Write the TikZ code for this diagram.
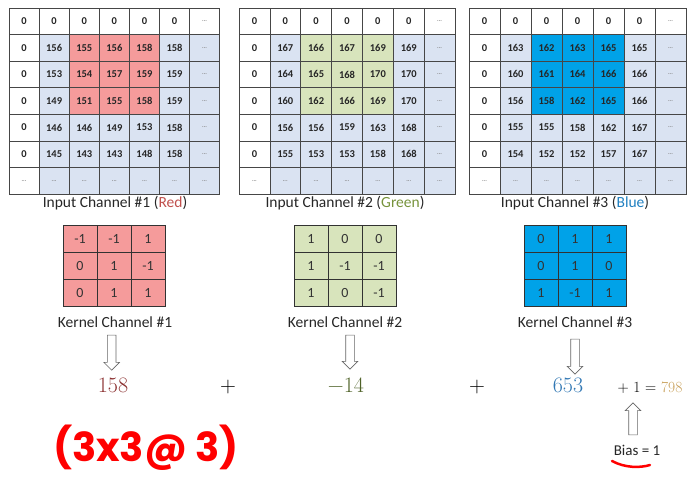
\documentclass[tikz,border=0pt]{standalone}
\usepackage{fontspec}
\usetikzlibrary{shapes.arrows}
\newfontfamily\calib{Carlito}
\newfontfamily\hand{Poppins}
\definecolor{cellbg}{RGB}{218,227,242}
\definecolor{hlred}{RGB}{245,155,155}
\definecolor{hlgreen}{RGB}{216,228,188}
\definecolor{hlblue}{RGB}{0,162,232}
\definecolor{gridline}{RGB}{70,70,70}
\definecolor{kline}{RGB}{50,50,50}
\definecolor{numred}{RGB}{140,50,50}
\definecolor{numgreen}{RGB}{79,98,40}
\definecolor{numblue}{RGB}{50,120,180}
\definecolor{numgold}{RGB}{200,160,90}
\definecolor{lblred}{RGB}{192,80,77}
\definecolor{lblgreen}{RGB}{119,147,60}
\definecolor{lblblue}{RGB}{31,127,192}
\newcommand\dd{\textcolor{gray}{\fontsize{6}{6}\selectfont...}}
\tikzset{
  cell/.style={draw=gridline, line width=0.7pt, inner sep=0pt,
    font=\calib\bfseries\fontsize{10.5}{11}\selectfont, text=black!85},
  kcell/.style={draw=kline, line width=0.8pt, inner sep=0pt,
    font=\calib\fontsize{14}{15}\selectfont, text=black!80},
  lbl/.style={font=\calib\fontsize{15.5}{17}\selectfont, text=black!85},
  bignum/.style={anchor=base, font=\fontsize{22}{24}\selectfont},
  hollow/.style={single arrow, draw=black!60, fill=white, line width=0.6pt,
    inner sep=4pt, single arrow head extend=3.5pt,
    single arrow head indent=0pt},
}
\newcommand\drawgrid[7]{%
  \foreach \rowv [count=\ri from 0] in {#7} {%
    \foreach \v [count=\ci from 0] in \rowv {%
      \def\fc{cellbg}%
      \ifnum\ri=0 \def\fc{white}\fi
      \ifnum\ci=0 \def\fc{white}\fi
      \ifnum\ri>0 \ifnum\ri<4 \ifnum\ci>1 \ifnum\ci<5 \def\fc{#6}\fi\fi\fi\fi
      \node[cell, fill=\fc, minimum width=#4pt, minimum height=#5pt]
        (#1-\ri-\ci) at ({#2+(\ci+0.5)*#4},{#3+(\ri+0.5)*#5}) {\v};
    }}}
\newcommand\drawkernel[5]{%
  \foreach \rowv [count=\ri from 0] in {#5} {%
    \foreach \v [count=\ci from 0] in \rowv {%
      \node[kcell, fill=#4, minimum width=34pt, minimum height=27pt]
        (#1-\ri-\ci) at ({#2+(\ci+0.5)*34},{#3+(\ri+0.5)*27}) {\v};
    }}}
\begin{document}
\begin{tikzpicture}[x=1pt, y=-1pt]
\useasboundingbox (0,0) rectangle (691,480);
\drawgrid{ga}{9}{8}{30.1}{26.57}{hlred}{%
  {0,0,0,0,0,0,\dd},
  {0,156,155,156,158,158,\dd},
  {0,153,154,157,159,159,\dd},
  {0,149,151,155,158,159,\dd},
  {0,146,146,149,153,158,\dd},
  {0,145,143,143,148,158,\dd},
  {\dd,\dd,\dd,\dd,\dd,\dd,\dd}}
\drawgrid{gb}{239}{8}{30.86}{26.57}{hlgreen}{%
  {0,0,0,0,0,0,\dd},
  {0,167,166,167,169,169,\dd},
  {0,164,165,168,170,170,\dd},
  {0,160,162,166,169,170,\dd},
  {0,156,156,159,163,168,\dd},
  {0,155,153,153,158,168,\dd},
  {\dd,\dd,\dd,\dd,\dd,\dd,\dd}}
\drawgrid{gc}{469}{8}{31}{26.57}{hlblue}{%
  {0,0,0,0,0,0,\dd},
  {0,163,162,163,165,165,\dd},
  {0,160,161,164,166,166,\dd},
  {0,156,158,162,165,166,\dd},
  {0,155,155,158,162,167,\dd},
  {0,154,152,152,157,167,\dd},
  {\dd,\dd,\dd,\dd,\dd,\dd,\dd}}
\node[lbl] (in1) at (115,203) {Input Channel \#1 (\textcolor{lblred}{Red})};
\node[lbl] (in2) at (345,203) {Input Channel \#2 (\textcolor{lblgreen}{Green})};
\node[lbl] (in3) at (575,203) {Input Channel \#3 (\textcolor{lblblue}{Blue})};
\drawkernel{ka}{63}{225}{hlred}{{-1,-1,1},{0,1,-1},{0,1,1}}
\drawkernel{kb}{294}{225}{hlgreen}{{1,0,0},{1,-1,-1},{1,0,-1}}
\drawkernel{kc}{524}{225}{hlblue}{{0,1,1},{0,1,0},{1,-1,1}}
\node[lbl] (kl1) at (115,322) {Kernel Channel \#1};
\node[lbl] (kl2) at (345,322) {Kernel Channel \#2};
\node[lbl] (kl3) at (575,322) {Kernel Channel \#3};
\node[hollow, minimum height=35pt, shape border rotate=270] (a1) at (111.7,350.5) {};
\node[hollow, minimum height=34pt, shape border rotate=270] (a2) at (350,350) {};
\node[hollow, minimum height=35pt, shape border rotate=270] (a3) at (575,354.5) {};
\node[bignum, text=numred] (n1) at (113,392) {158};
\node[bignum] (p1) at (228,392) {+};
\node[bignum, text=numgreen] (n2) at (346,392) {−14};
\node[bignum] (p2) at (477,392) {+};
\node[bignum, text=numblue] (n3) at (568,392) {653};
\node[anchor=base, font=\fontsize{15.5}{17}\selectfont] (sum) at (650,392) {+ 1 = \textcolor{numgold}{798}};
\node[hollow, minimum height=32pt, shape border rotate=90] (a4) at (633,421) {};
\node[font=\calib\fontsize{15}{16}\selectfont, text=black!85] (bias) at (637,450) {Bias = 1};
\draw[red, line width=2.5pt, line cap=round] (612,461) .. controls (625,468) and (640,468) .. (650,465);
\node[text=red, font=\hand\bfseries\fontsize{40}{44}\selectfont] (hw) at (146,448) {(3x3@ 3)};
\end{tikzpicture}
\end{document}
